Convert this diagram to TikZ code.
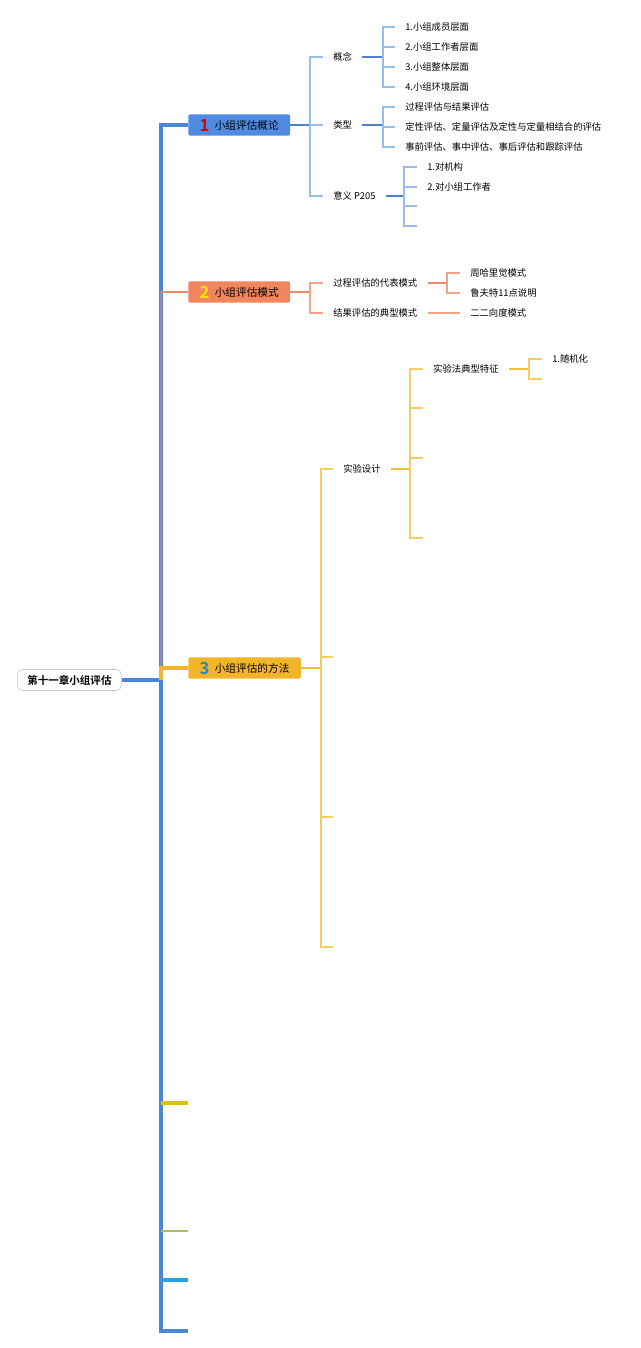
\documentclass[tikz,border=0pt]{standalone}
\usepackage{fontspec}
\setmainfont{Noto Sans CJK SC}[BoldFont={Noto Sans CJK SC Bold}]

\definecolor{trunkblue}{HTML}{4A86DA}
\definecolor{topicone}{HTML}{4F8BE0}
\definecolor{topictwo}{HTML}{F0855E}
\definecolor{topicthree}{HTML}{F2B52A}
\definecolor{lineone}{HTML}{9CBCE8}
\definecolor{deepone}{HTML}{4F80CC}
\definecolor{linetwo}{HTML}{F2A285}
\definecolor{deeptwo}{HTML}{EE8A68}
\definecolor{linethree}{HTML}{F5CC66}
\definecolor{deepthree}{HTML}{F0BE38}
\definecolor{stubyellow}{HTML}{E0C020}
\definecolor{stubolive}{HTML}{B0BC5C}
\definecolor{stubcyan}{HTML}{2AA0E0}
\definecolor{trunkmix}{HTML}{9D8CA8}

\newcommand{\topicnum}[2]{\raisebox{-1.2pt}{\textcolor{#1}{\fontsize{12.5}{12.5}\selectfont\bfseries #2}}\hspace{4pt}}

\begin{document}
\begin{tikzpicture}[
    x=0.75pt, y=-0.75pt,
    every node/.style={font=\fontsize{7}{8}\selectfont, inner xsep=7.5pt,
                        inner ysep=2pt, anchor=west},
    rootbox/.style={draw=gray!45, fill=white, rounded corners=4pt,
                    font=\fontsize{7.9}{9}\selectfont\bfseries,
                    minimum height=15.75pt},
    topicbox/.style={rounded corners=1.5pt, minimum height=16pt,
                     inner xsep=8.5pt, font=\fontsize{8}{9}\selectfont},
    trunk/.style={draw=trunkblue, line width=3pt},
    lineone/.style={draw=lineone, line width=0.8pt},
    deepone/.style={draw=deepone, line width=1pt},
    linetwo/.style={draw=linetwo, line width=0.8pt},
    deeptwo/.style={draw=deeptwo, line width=1pt},
    linethree/.style={draw=linethree, line width=0.8pt},
    deepthree/.style={draw=deepthree, line width=1.1pt}
  ]
  \useasboundingbox[fill=white] (0,0) rectangle (640,1348);

  \node[rootbox] (root) at (17,680) {第十一章小组评估};
  \coordinate (hub) at (161,680);

  \node[topicbox, fill=topicone] (b1) at (188,125) {\topicnum{red!85!black}{1}小组评估概论};
  \node[topicbox, fill=topictwo] (b2) at (188,292) {\topicnum{yellow!85!orange}{2}小组评估模式};
  \node[topicbox, fill=topicthree] (b3) at (188,668) {\topicnum{stubcyan!85!black}{3}小组评估的方法};

  \coordinate (s1) at (188,1103);
  \coordinate (s2) at (188,1231);
  \coordinate (s3) at (188,1280);
  \coordinate (s4) at (188,1331);

  % trunk
  \draw[trunk] (root.east) -- (hub);
  \draw[trunk] (hub) |- (b1.west);
  \draw[trunk] (hub) |- (s4);
  \draw[draw=trunkmix, line width=1pt] (hub |- b3.west) -- (hub |- b2.west);
  \draw[draw=deeptwo, line width=1pt] (hub |- b2.west) -- (b2.west);
  \draw[draw=topicthree, line width=2.5pt] (hub) |- (b3.west);
  \draw[draw=stubyellow, line width=2.5pt] (hub |- s1) -- (s1);
  \draw[draw=stubolive, line width=1pt] (hub |- s2) -- (s2);
  \draw[draw=stubcyan, line width=2.5pt] (hub |- s3) -- (s3);

  % branch 1
  \node (c1) at (323,57) {概念};
  \node (c2) at (323,125) {类型};
  \node (c3) at (323,196) {意义 P205};
  \coordinate (j1) at (310,125);
  \draw[deepone] (b1.east) -- (j1);
  \foreach \n in {c1,c2,c3} \draw[lineone] (j1) |- (\n.west);

  \node (c11) at (395,27) {1.小组成员层面};
  \node (c12) at (395,47) {2.小组工作者层面};
  \node (c13) at (395,67) {3.小组整体层面};
  \node (c14) at (395,87) {4.小组环境层面};
  \coordinate (j11) at (383,57);
  \draw[deepone] (c1.east) -- (j11);
  \foreach \n in {c11,c12,c13,c14} \draw[lineone] (j11) |- (\n.west);

  \node (c21) at (395,107) {过程评估与结果评估};
  \node (c22) at (395,127) {定性评估、定量评估及定性与定量相结合的评估};
  \node (c23) at (395,147) {事前评估、事中评估、事后评估和跟踪评估};
  \coordinate (j12) at (383,125);
  \draw[deepone] (c2.east) -- (j12);
  \foreach \n in {c21,c22,c23} \draw[lineone] (j12) |- (\n.west);

  \node (c31) at (417,167) {1.对机构};
  \node (c32) at (417,187) {2.对小组工作者};
  \coordinate (c33) at (417,206);
  \coordinate (c34) at (417,226);
  \coordinate (j13) at (404,196);
  \draw[deepone] (c3.east) -- (j13);
  \foreach \n in {c31,c32} \draw[lineone] (j13) |- (\n.west);
  \foreach \n in {c33,c34} \draw[lineone] (j13) |- (\n);

  % branch 2
  \node (d1) at (323,283) {过程评估的代表模式};
  \node (d2) at (323,313) {结果评估的典型模式};
  \coordinate (j2) at (310,292);
  \draw[deeptwo] (b2.east) -- (j2);
  \foreach \n in {d1,d2} \draw[linetwo] (j2) |- (\n.west);

  \node (d11) at (460,273) {周哈里觉模式};
  \node (d12) at (460,293) {鲁夫特11点说明};
  \coordinate (j21) at (447,283);
  \draw[deeptwo] (d1.east) -- (j21);
  \foreach \n in {d11,d12} \draw[linetwo] (j21) |- (\n.west);

  \node (d21) at (460,313) {二二向度模式};
  \draw[linetwo] (d2.east) -- (d21.west);

  % branch 3
  \node (g1) at (333,469) {实验设计};
  \coordinate (g2) at (333,657);
  \coordinate (g3) at (333,817);
  \coordinate (g4) at (333,947);
  \coordinate (j3) at (321,668);
  \draw[deepthree] (b3.east) -- (j3);
  \draw[linethree] (j3) |- (g1.west);
  \foreach \n in {g2,g3,g4} \draw[linethree] (j3) |- (\n);

  \node (h1) at (423,369) {实验法典型特征};
  \coordinate (h2) at (423,408);
  \coordinate (h3) at (423,458);
  \coordinate (h4) at (423,538);
  \coordinate (j31) at (410,469);
  \draw[deepthree] (g1.east) -- (j31);
  \draw[linethree] (j31) |- (h1.west);
  \foreach \n in {h2,h3,h4} \draw[linethree] (j31) |- (\n);

  \node (k1) at (542,359) {1.随机化};
  \coordinate (k2) at (542,379);
  \coordinate (j311) at (529,369);
  \draw[deepthree] (h1.east) -- (j311);
  \draw[linethree] (j311) |- (k1.west);
  \draw[linethree] (j311) |- (k2);
\end{tikzpicture}
\end{document}
